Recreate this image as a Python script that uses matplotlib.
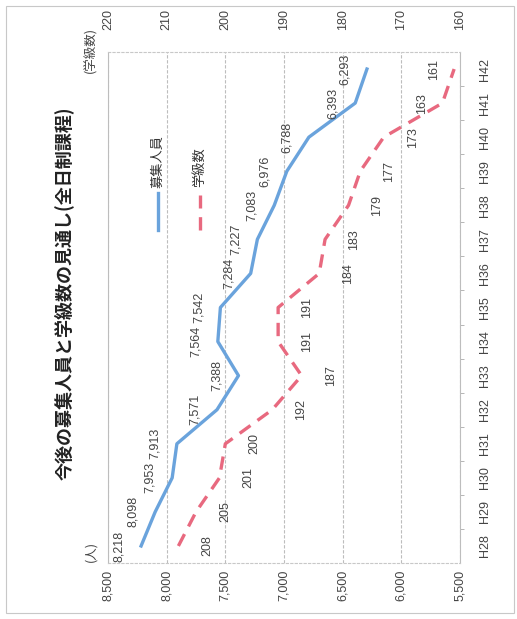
import matplotlib
matplotlib.use("Agg")
import matplotlib.pyplot as plt
from matplotlib import font_manager as fm
from matplotlib.lines import Line2D
from matplotlib.patches import Rectangle
import numpy as np

# ---- data ----
years = ["H28", "H29", "H30", "H31", "H32", "H33", "H34", "H35",
         "H36", "H37", "H38", "H39", "H40", "H41", "H42"]
people = [8218, 8098, 7953, 7913, 7571, 7388, 7564, 7542,
          7284, 7227, 7083, 6976, 6788, 6393, 6293]
classes = [208, 205, 201, 200, 192, 187, 191, 191,
           184, 183, 179, 177, 173, 163, 161]
people_ticks = [5500, 6000, 6500, 7000, 7500, 8000, 8500]
class_ticks = [160, 170, 180, 190, 200, 210, 220]

title = "今後の募集人員と学級数の見通し(全日制課程)"
series_names = ["募集人員", "学級数"]

# ---- fonts ----
def has_font(name):
    try:
        fm.findfont(fm.FontProperties(family=name), fallback_to_default=False)
        return True
    except Exception:
        return False

narrow = "Liberation Sans Narrow" if has_font("Liberation Sans Narrow") else "Liberation Sans"
num_fam = [narrow, "DejaVu Sans"]
cjk_fam = ["Noto Sans CJK JP", "DejaVu Sans"]
num_color = "#444444"
nfs = 9.5 if narrow.endswith("Narrow") else 9

blue = "#6aa3dc"
pink = "#e8697f"

W, H = 517, 619
fig = plt.figure(figsize=(W / 100, H / 100), dpi=100)

# axes in pixel coords
x0, x1 = 108, 460
y_top, y_bot = 52, 563
ax = fig.add_axes([x0 / W, 1 - y_bot / H, (x1 - x0) / W, (y_bot - y_top) / H])

idx = np.arange(len(years))

ax.set_xlim(8500, 5500)
ax.set_ylim(-0.5, len(years) - 0.5)
ax.set_xticks(people_ticks)
ax.set_xticklabels([f"{v:,}" for v in people_ticks], rotation=90,
                   family=num_fam, fontsize=nfs, color=num_color)
ax.tick_params(axis="x", length=0, pad=5)
ax.yaxis.tick_right()
ax.set_yticks(idx)
ax.set_yticklabels(years, rotation=90, va="center", family=num_fam,
                   fontsize=nfs, color=num_color)
ax.tick_params(axis="y", length=0, pad=14)
ax.set_yticks(idx[:-1] + 0.5, minor=True)
ax.tick_params(axis="y", which="minor", length=3, color="#aaaaaa", right=True, left=False)
ax.grid(axis="x", color="#bdbdbd", linewidth=0.8, linestyle=(0, (3, 1.5)))
for s in ["left", "right"]:
    ax.spines[s].set_color("#bdbdbd")
    ax.spines[s].set_linewidth(0.8)
for s in ["top", "bottom"]:
    ax.spines[s].set_color("#c8c8c8")
    ax.spines[s].set_linewidth(0.8)
    ax.spines[s].set_linestyle((0, (2, 2)))

ax.plot(people, idx, color=blue, linewidth=2.4, solid_joinstyle="round", zorder=3)
for v, i in zip(people, idx):
    ax.annotate(f"{v:,}", (v, i), xytext=(-22, 0), textcoords="offset pixels",
                rotation=90, ha="center", va="center", family=num_fam,
                fontsize=nfs, color=num_color, zorder=4)

ax2 = ax.twiny()
ax2.set_xlim(220, 160)
ax2.set_xticks(class_ticks)
ax2.set_xticklabels([str(v) for v in class_ticks], rotation=90,
                    family=num_fam, fontsize=nfs, color=num_color)
ax2.tick_params(axis="x", length=0, pad=16)
for s in ax2.spines.values():
    s.set_visible(False)
ax2.plot(classes, idx, color=pink, linewidth=2.4, linestyle=(0, (4, 2.6)),
         dash_capstyle="butt", zorder=3)
for v, i in zip(classes, idx):
    # labels near the plot edge are pushed to the inner side, as in the source
    dx = 29 if v > 166 else -20
    ax2.annotate(str(v), (v, i), xytext=(dx, 0), textcoords="offset pixels",
                 rotation=90, ha="center", va="center", family=num_fam,
                 fontsize=nfs, color=num_color, zorder=4)

# ---- legend (rotated, drawn manually) ----
def fx(px):
    return px / W

def fy(py):
    return 1 - py / H

fig.add_artist(Line2D([fx(158), fx(158)], [fy(230), fy(193)], color=blue,
                      linewidth=2.4, transform=fig.transFigure))
fig.text(fx(158), fy(162), series_names[0], rotation=90, ha="center", va="center",
         family=cjk_fam, fontsize=9.5, color="#333333")
fig.add_artist(Line2D([fx(200), fx(200)], [fy(230), fy(195)], color=pink,
                      linewidth=2.4, linestyle=(0, (4, 2.6)),
                      transform=fig.transFigure))
fig.text(fx(200), fy(167), series_names[1], rotation=90, ha="center", va="center",
         family=cjk_fam, fontsize=9.5, color="#333333")

# ---- title & axis units ----
fig.text(fx(64), fy(293), title, rotation=90, ha="center", va="center",
         family=cjk_fam, fontsize=13, fontweight="bold", color="#222222")
fig.text(fx(91), fy(551), "(人)", rotation=90, ha="center", va="center",
         family=cjk_fam, fontsize=9, color="#444444")
fig.text(fx(91), fy(50), "(学級数)", rotation=90, ha="center", va="center",
         family=cjk_fam, fontsize=9, color="#444444")

# outer chart border
fig.add_artist(Rectangle((fx(6), fy(613)), fx(508), 607 / H, fill=False,
                         edgecolor="#c8c8c8", linewidth=0.8,
                         transform=fig.transFigure))

fig.savefig("out.png", dpi=100)
